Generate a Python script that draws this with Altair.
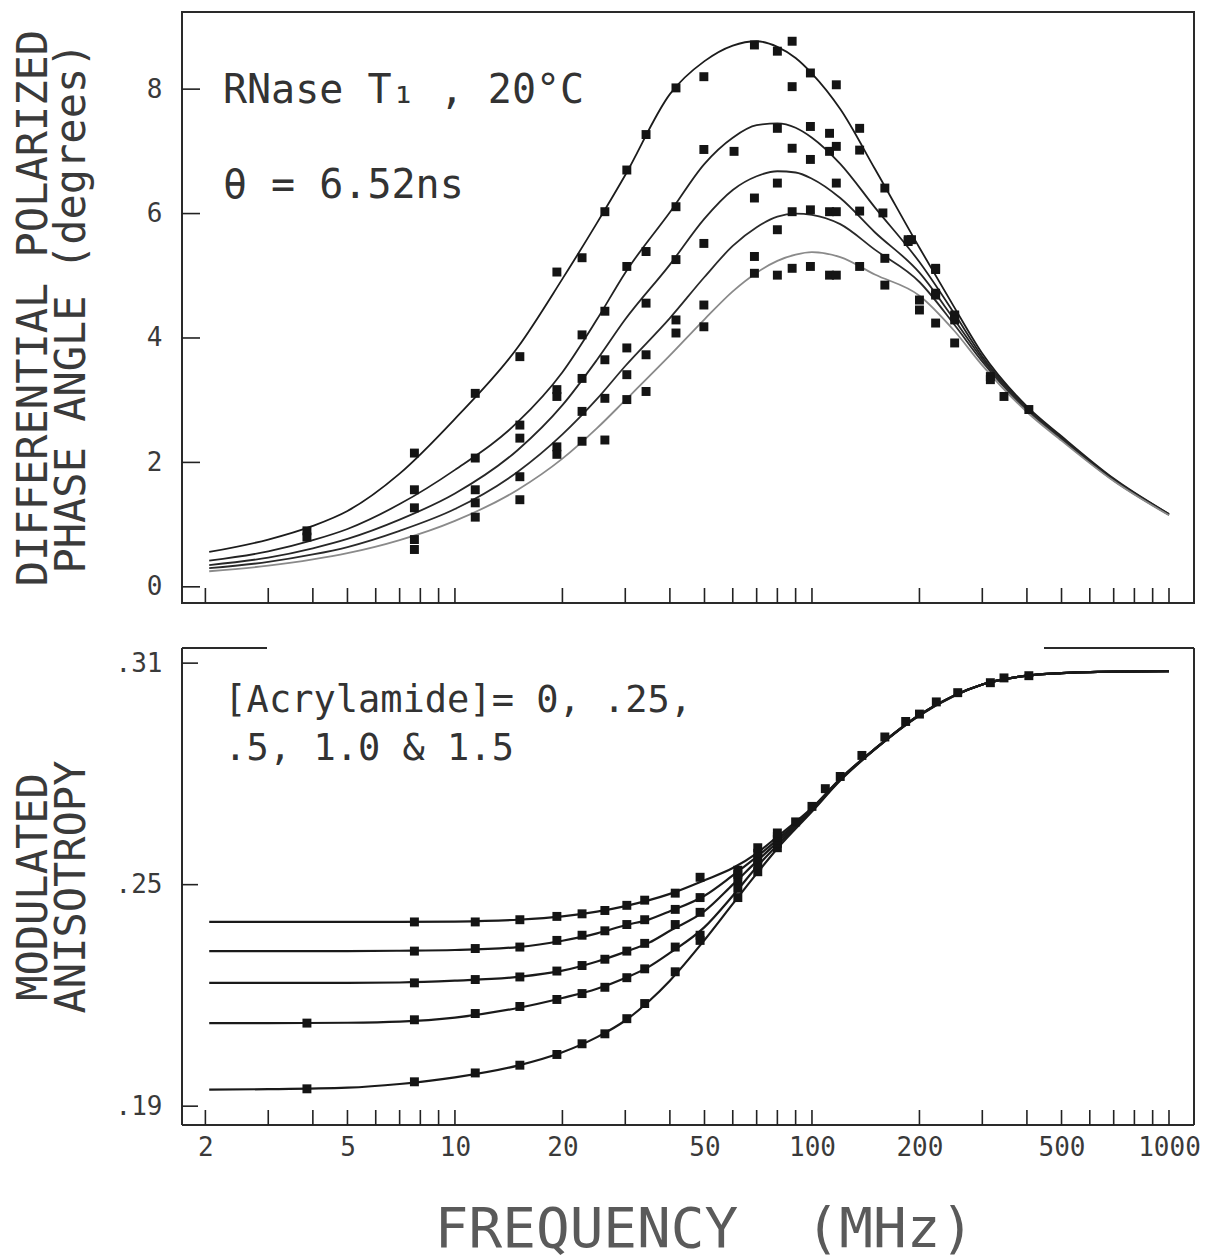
import altair as alt
import pandas as pd

FONT = "DejaVu Sans Mono"
W, HT, HB = 1012, 591, 477

# ---------------- Top panel: differential polarized phase angle (degrees) ----------------
series_names = ["0 M", "0.25 M", "0.5 M", "1.0 M", "1.5 M"]

curve_freq = [2.05, 3, 4, 5, 7, 10, 15, 20, 25, 30, 40, 50, 60, 70, 80, 90, 100,
              120, 150, 200, 250, 300, 400, 500, 700, 1000]
phase_0 = [0.56, 0.76, 0.98, 1.22, 1.82, 2.70, 3.85, 4.95, 5.85, 6.62, 7.92, 8.45, 8.70, 8.77,
           8.68, 8.50, 8.25, 7.68, 6.72, 5.45, 4.50, 3.75, 2.90, 2.42, 1.74, 1.17]
phase_025 = [0.42, 0.57, 0.75, 0.93, 1.33, 1.88, 2.65, 3.45, 4.30, 5.05, 6.02, 6.80, 7.22, 7.42,
             7.45, 7.38, 7.22, 6.80, 6.10, 5.22, 4.40, 3.70, 2.88, 2.40, 1.73, 1.17]
phase_05 = [0.35, 0.47, 0.62, 0.77, 1.08, 1.50, 2.20, 2.92, 3.65, 4.30, 5.18, 5.92, 6.38, 6.60,
            6.68, 6.66, 6.56, 6.25, 5.70, 5.05, 4.30, 3.66, 2.86, 2.39, 1.72, 1.16]
phase_10 = [0.30, 0.40, 0.52, 0.64, 0.90, 1.25, 1.85, 2.45, 3.02, 3.55, 4.32, 4.98, 5.48, 5.78,
            5.95, 6.00, 5.98, 5.83, 5.42, 4.90, 4.22, 3.62, 2.84, 2.37, 1.71, 1.16]
phase_15 = [0.25, 0.34, 0.44, 0.54, 0.75, 1.06, 1.56, 2.06, 2.55, 3.00, 3.72, 4.30, 4.75, 5.05,
            5.24, 5.34, 5.38, 5.30, 5.02, 4.68, 4.12, 3.56, 2.81, 2.35, 1.70, 1.15]

pt_f_0 = [3.85, 7.7, 11.4, 15.2, 19.3, 22.7, 26.3, 30.3, 34.3, 41.6, 49.8, 69, 80, 88, 99, 117, 136, 160, 186, 222, 251]
pt_v_0 = [0.90, 2.15, 3.11, 3.70, 5.06, 5.29, 6.03, 6.70, 7.27, 8.02, 8.20, 8.71, 8.61, 8.77, 8.26, 8.07, 7.37, 6.41, 5.58, 5.10, 4.35]
pt_f_025 = [3.85, 7.7, 11.4, 15.2, 19.3, 22.7, 26.3, 30.3, 34.3, 41.6, 49.8, 60.5, 80, 88, 99, 112, 117, 136, 158, 186, 222]
pt_v_025 = [0.80, 1.56, 2.07, 2.60, 3.17, 4.05, 4.43, 5.15, 5.39, 6.11, 7.03, 7.00, 7.37, 8.04, 7.40, 7.29, 7.08, 7.02, 6.01, 5.55, 5.12]
pt_f_05 = [7.7, 11.4, 15.2, 19.3, 22.7, 26.3, 30.3, 34.3, 41.6, 49.8, 69, 80, 88, 99, 112, 117, 136, 160, 190, 200, 222, 251]
pt_v_05 = [1.27, 1.56, 2.39, 3.06, 3.35, 3.65, 3.84, 4.56, 5.26, 5.52, 6.25, 6.49, 7.05, 6.87, 7.00, 6.49, 6.04, 5.28, 5.58, 4.61, 4.72, 4.37]
pt_f_10 = [7.7, 11.4, 15.2, 19.3, 22.7, 26.3, 30.3, 34.3, 41.6, 49.8, 69, 80, 88, 99, 112, 117, 160, 200, 222, 251, 316]
pt_v_10 = [0.76, 1.35, 1.77, 2.25, 2.82, 3.03, 3.41, 3.73, 4.29, 4.53, 5.31, 5.74, 6.03, 6.06, 6.03, 6.03, 4.85, 4.45, 4.24, 4.29, 3.38]
pt_f_15 = [7.7, 11.4, 15.2, 19.3, 22.7, 26.3, 30.3, 34.3, 41.6, 49.8, 69, 80, 88, 99, 112, 117, 136, 222, 251, 316, 345, 405]
pt_v_15 = [0.60, 1.12, 1.40, 2.13, 2.34, 2.36, 3.01, 3.14, 4.08, 4.18, 5.04, 5.01, 5.12, 5.15, 5.01, 5.01, 5.15, 4.69, 3.92, 3.33, 3.06, 2.85]

# ---------------- Bottom panel: modulated anisotropy ----------------
aniso_freq = [2.05, 3, 5, 7, 10, 15, 20, 25, 30, 35, 40, 50, 60, 70, 80, 100, 120, 150,
              200, 250, 300, 400, 500, 700, 1000]
aniso_15 = [.2399, .2399, .2399, .2399, .2400, .2405, .2414, .2427, .2442, .2458, .2475, .2512, .2545,
            .2585, .2630, .2708, .2787, .2868, .2960, .3012, .3042, .3066, .3073, .3077, .3078]
aniso_10 = [.2320, .2320, .2320, .2321, .2323, .2331, .2348, .2368, .2390, .2406, .2428, .2470, .2525,
            .2575, .2622, .2706, .2786, .2868, .2960, .3012, .3042, .3066, .3073, .3077, .3078]
aniso_05 = [.2234, .2234, .2234, .2235, .2240, .2250, .2267, .2292, .2318, .2343, .2375, .2428, .2500,
            .2563, .2615, .2704, .2785, .2867, .2960, .3012, .3042, .3066, .3073, .3077, .3078]
aniso_025 = [.2125, .2125, .2126, .2129, .2140, .2166, .2193, .2218, .2247, .2278, .2315, .2385, .2470,
             .2548, .2607, .2701, .2784, .2867, .2959, .3012, .3042, .3066, .3073, .3077, .3078]
aniso_0 = [.1945, .1946, .1950, .1960, .1978, .2010, .2046, .2087, .2132, .2185, .2240, .2350, .2448,
           .2530, .2598, .2698, .2782, .2866, .2958, .3011, .3042, .3066, .3073, .3077, .3078]

apt_f = [7.7, 11.4, 15.2, 19.3, 22.7, 26.3, 30.3, 34, 41.4, 48.6, 62, 70.5, 80]
apt_v_15 = [.2399, .2399, .2405, .2414, .2421, .2430, .2444, .2458, .2477, .2520, .2539, .2600, .2640]
apt_v_10 = [.2320, .2327, .2331, .2349, .2363, .2375, .2392, .2405, .2433, .2465, .2528, .2585, .2630]
apt_v_05 = [.2234, .2243, .2250, .2266, .2281, .2298, .2320, .2341, .2392, .2425, .2512, .2570, .2622]
apt_f_low = [3.85] + apt_f
apt_v_025 = [.2125, .2134, .2151, .2170, .2189, .2205, .2222, .2248, .2272, .2331, .2363, .2490, .2553, .2612]
apt_v_0 = [.1947, .1966, .1990, .2011, .2040, .2069, .2096, .2137, .2178, .2264, .2349, .2465, .2535, .2600]
apt_f_common = [90, 100, 109, 120, 138, 160, 183, 200, 223, 256, 316, 345, 405]
apt_v_common = [.2670, .2712, .2760, .2793, .2850, .2900, .2942, .2962, .2995, .3020, .3047, .3060, .3066]

# ---------------- Axis / tick values and annotations ----------------
x_tick_vals = [2, 3, 4, 5, 6, 7, 8, 9, 10, 20, 30, 40, 50, 60, 70, 80, 90,
               100, 200, 300, 400, 500, 600, 700, 800, 900, 1000]
x_label_vals = [2, 5, 10, 20, 50, 100, 200, 500, 1000]
top_y_vals = [0, 2, 4, 6, 8]
bot_y_vals = [0.19, 0.25, 0.31]

top_notes = ["RNase T\u2081 , 20\u00b0C", "\u03b8 = 6.52ns"]
top_notes_f = [2.24, 2.24]
top_notes_v = [7.97, 6.45]
bot_notes = ["[Acrylamide]= 0, .25,", ".5, 1.0 & 1.5"]
bot_notes_f = [2.26, 2.26]
bot_notes_v = [0.2998, 0.2868]


def long_same(freqs, cols):
    rows = []
    for name, vals in cols:
        for f, v in zip(freqs, vals):
            rows.append({"f": f, "v": v, "series": name})
    return pd.DataFrame(rows)


def long_own(cols):
    rows = []
    for name, fs, vs in cols:
        for f, v in zip(fs, vs):
            rows.append({"f": f, "v": v, "series": name})
    return pd.DataFrame(rows)


top_curves = long_same(curve_freq, list(zip(series_names, [phase_0, phase_025, phase_05, phase_10, phase_15])))
top_points = long_own([("0 M", pt_f_0, pt_v_0), ("0.25 M", pt_f_025, pt_v_025), ("0.5 M", pt_f_05, pt_v_05),
                       ("1.0 M", pt_f_10, pt_v_10), ("1.5 M", pt_f_15, pt_v_15)])
bot_curves = long_same(aniso_freq, list(zip(series_names, [aniso_0, aniso_025, aniso_05, aniso_10, aniso_15])))
bot_points = long_own([("0 M", apt_f_low, apt_v_0), ("0.25 M", apt_f_low, apt_v_025), ("0.5 M", apt_f, apt_v_05),
                       ("1.0 M", apt_f, apt_v_10), ("1.5 M", apt_f, apt_v_15), ("all", apt_f_common, apt_v_common)])

xticks_df = pd.DataFrame({"f": x_tick_vals})
top_yticks_df = pd.DataFrame({"v": top_y_vals})
bot_yticks_df = pd.DataFrame({"v": bot_y_vals})
top_notes_df = pd.DataFrame({"f": top_notes_f, "v": top_notes_v, "t": top_notes})
bot_notes_df = pd.DataFrame({"f": bot_notes_f, "v": bot_notes_v, "t": bot_notes})
one = pd.DataFrame({"k": [0]})

x_scale = alt.Scale(type="log", domain=[1.72, 1175], nice=False)
top_y_scale = alt.Scale(domain=[-0.26, 9.24], nice=False, zero=False)
bot_y_scale = alt.Scale(domain=[0.1849, 0.3141], nice=False, zero=False)

line_color = alt.Color("series:N", legend=None,
                       scale=alt.Scale(domain=series_names,
                                       range=["#1c1c1c", "#222222", "#262626", "#2a2a2a", "#8a8a8a"]))

top_y_axis = alt.Axis(values=top_y_vals, format="d", labelFont=FONT, labelFontSize=26, labelColor="#3a3a3a",
                      labelPadding=20, ticks=False, tickSize=0, domain=False, grid=False,
                      title=["DIFFERENTIAL POLARIZED", "PHASE ANGLE (degrees)"],
                      titleFont=FONT, titleFontSize=42, titleFontWeight="normal", titleColor="#3a3a3a",
                      titleAngle=270, titleX=-169, titleY=HT / 2, titleAlign="center",
                      titleBaseline="top", titleLineHeight=38)
bot_y_axis = alt.Axis(values=bot_y_vals, labelExpr="replace(format(datum.value, '.2f'), '0.', '.')",
                      labelFont=FONT, labelFontSize=26, labelColor="#3a3a3a",
                      labelPadding=20, ticks=False, tickSize=0, domain=False, grid=False,
                      title=["MODULATED", "ANISOTROPY"],
                      titleFont=FONT, titleFontSize=42, titleFontWeight="normal", titleColor="#3a3a3a",
                      titleAngle=270, titleX=-169, titleY=HB / 2, titleAlign="center",
                      titleBaseline="top", titleLineHeight=38)
bot_x_axis = alt.Axis(values=x_label_vals, format="d", labelFont=FONT, labelFontSize=26, labelColor="#3a3a3a",
                      labelPadding=9, labelOverlap=False, labelFlush=False, ticks=False, tickSize=0,
                      domain=False, grid=False,
                      title="FREQUENCY\u00a0\u00a0(MHz)", titleFont=FONT, titleFontSize=56,
                      titleFontWeight="normal", titleColor="#5a5a5a",
                      titleX=522, titleY=121, titleAlign="center", titleBaseline="alphabetic")

X_top = alt.X("f:Q", scale=x_scale, axis=None)
Y_top = alt.Y("v:Q", scale=top_y_scale, axis=top_y_axis)
X_bot = alt.X("f:Q", scale=x_scale, axis=bot_x_axis)
Y_bot = alt.Y("v:Q", scale=bot_y_scale, axis=bot_y_axis)

# ---- top panel layers
t_lines = alt.Chart(top_curves).mark_line(strokeWidth=1.8, interpolate="monotone").encode(
    x=X_top, y=Y_top, color=line_color, detail="series:N")
t_points = alt.Chart(top_points).mark_square(size=80, color="#141414", opacity=1).encode(
    x=X_top, y=Y_top, detail="series:N")
t_xticks = alt.Chart(xticks_df).mark_rule(color="#222", strokeWidth=1.6).encode(
    x=X_top, y=alt.value(HT), y2=alt.value(HT - 15))
t_yticks = alt.Chart(top_yticks_df).mark_rule(color="#222", strokeWidth=1.6).encode(
    y=Y_top, x=alt.value(0), x2=alt.value(18))
t_notes = alt.Chart(top_notes_df).mark_text(font=FONT, fontSize=40, align="left", baseline="middle",
                                            color="#333").encode(x=X_top, y=Y_top, text="t:N")
t_frame = alt.Chart(one).mark_rect(fill="transparent", stroke="#2a2a2a", strokeWidth=2).encode(
    x=alt.value(0), x2=alt.value(W), y=alt.value(0), y2=alt.value(HT))
top = alt.layer(t_frame, t_xticks, t_yticks, t_lines, t_points, t_notes).properties(width=W, height=HT)

# ---- bottom panel layers
b_lines = alt.Chart(bot_curves).mark_line(strokeWidth=2.2, interpolate="monotone", color="#1a1a1a").encode(
    x=X_bot, y=Y_bot, detail="series:N")
b_points = alt.Chart(bot_points).mark_square(size=80, color="#141414", opacity=1).encode(
    x=X_bot, y=Y_bot, detail="series:N")
b_xticks = alt.Chart(xticks_df).mark_rule(color="#222", strokeWidth=1.6).encode(
    x=X_bot, y=alt.value(HB), y2=alt.value(HB - 15))
b_yticks = alt.Chart(bot_yticks_df).mark_rule(color="#222", strokeWidth=1.6).encode(
    y=Y_bot, x=alt.value(0), x2=alt.value(16))
b_notes = alt.Chart(bot_notes_df).mark_text(font=FONT, fontSize=37, align="left", baseline="middle",
                                            color="#333").encode(x=X_bot, y=Y_bot, text="t:N")
frame_style = dict(color="#2a2a2a", strokeWidth=2)
b_left = alt.Chart(one).mark_rule(**frame_style).encode(x=alt.value(0), y=alt.value(0), y2=alt.value(HB))
b_right = alt.Chart(one).mark_rule(**frame_style).encode(x=alt.value(W), y=alt.value(0), y2=alt.value(HB))
b_bottom = alt.Chart(one).mark_rule(**frame_style).encode(y=alt.value(HB), x=alt.value(0), x2=alt.value(W))
b_top1 = alt.Chart(one).mark_rule(**frame_style).encode(y=alt.value(0), x=alt.value(0), x2=alt.value(85))
b_top2 = alt.Chart(one).mark_rule(**frame_style).encode(y=alt.value(0), x=alt.value(862), x2=alt.value(W))
bottom = alt.layer(b_left, b_right, b_bottom, b_top1, b_top2, b_xticks, b_yticks,
                   b_lines, b_points, b_notes).properties(width=W, height=HB)

chart = alt.vconcat(top, bottom, spacing=41).properties(
    padding={"left": 3, "top": 2, "right": 10, "bottom": 10},
    background="white",
).configure_view(stroke="transparent")

chart.save("out.html", embed_options={"renderer": "svg", "actions": False})
